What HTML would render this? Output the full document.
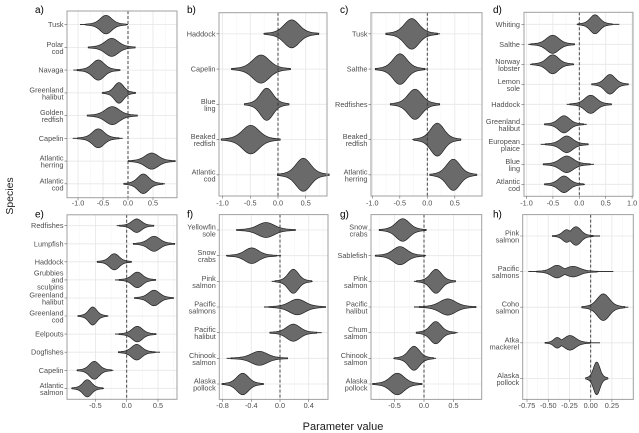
<!DOCTYPE html>
<html><head><meta charset="utf-8"><style>
html,body{margin:0;padding:0;background:#fff;}
svg{display:block;font-family:"Liberation Sans",Arial,sans-serif;}
.mi{stroke:#f3f3f3;stroke-width:0.5;fill:none}
.ma{stroke:#e6e6e6;stroke-width:0.8;fill:none}
.z{stroke:#333;stroke-width:0.9;stroke-dasharray:3 2;fill:none}
.t{stroke:#1a1a1a;stroke-width:0.9;fill:none}
.bd{fill:none;stroke:#a0a0a0;stroke-width:1}
.tk{stroke:#666;stroke-width:0.6;fill:none}
.yl{font-size:7.3px;fill:#4d4d4d;text-anchor:end}
.xl{font-size:7.3px;fill:#4d4d4d;text-anchor:middle}
.tag{font-size:10px;fill:#000}
</style></head><body>
<svg width="639" height="433" viewBox="0 0 639 433" xmlns="http://www.w3.org/2000/svg" xmlns:xlink="http://www.w3.org/1999/xlink">
<defs>
<path id="v" vector-effect="non-scaling-stroke" d="M-4 0L-4 -.0254L-3.5 -.0468L-3 -.0826L-2.75 -.1094L-2.5 -.1451L-2.25 -.193L-2 -.2565L-1.75 -.3384L-1.5 -.4393L-1.25 -.5562L-1 -.6817L-.75 -.8035L-.5 -.9064L-.25 -.9756L0 -1L.25 -.9756L.5 -.9064L.75 -.8035L1 -.6817L1.25 -.5562L1.5 -.4393L1.75 -.3384L2 -.2565L2.25 -.193L2.5 -.1451L2.75 -.1094L3 -.0826L3.5 -.0468L4 -.0254L4 .0254L3.5 .0468L3 .0826L2.75 .1094L2.5 .1451L2.25 .193L2 .2565L1.75 .3384L1.5 .4393L1.25 .5562L1 .6817L.75 .8035L.5 .9064L.25 .9756L0 1L-.25 .9756L-.5 .9064L-.75 .8035L-1 .6817L-1.25 .5562L-1.5 .4393L-1.75 .3384L-2 .2565L-2.25 .193L-2.5 .1451L-2.75 .1094L-3 .0826L-3.5 .0468L-4 .0254Z"/>
<g id="all">
<use xlink:href="#v" href="#v" transform="translate(106 24.6) scale(5 9)"/>
<use xlink:href="#v" href="#v" transform="translate(111.7 47.4) scale(5.8 8.7)"/>
<use xlink:href="#v" href="#v" transform="translate(98.3 70.1) scale(5.2 9.8)"/>
<use xlink:href="#v" href="#v" transform="translate(119 92.9) scale(4 10)"/>
<use xlink:href="#v" href="#v" transform="translate(112.3 115.6) scale(6.2 8.7)"/>
<use xlink:href="#v" href="#v" transform="translate(98.3 138.3) scale(5.1 9.2)"/>
<use xlink:href="#v" href="#v" transform="translate(151.7 161.1) scale(5.8 7.8)"/>
<use xlink:href="#v" href="#v" transform="translate(143.3 183.8) scale(4.8 9.5)"/>
<use xlink:href="#v" href="#v" transform="translate(291.7 33.85) scale(6.7 13.7)"/>
<use xlink:href="#v" href="#v" transform="translate(261 69.1) scale(7.3 13.8)"/>
<use xlink:href="#v" href="#v" transform="translate(266.7 104.3) scale(5.5 15.8)"/>
<use xlink:href="#v" href="#v" transform="translate(250.7 139.6) scale(7.3 14)"/>
<use xlink:href="#v" href="#v" transform="translate(303.3 174.8) scale(6.4 16.2)"/>
<use xlink:href="#v" href="#v" transform="translate(411.7 33.85) scale(6.4 15)"/>
<use xlink:href="#v" href="#v" transform="translate(400 69.1) scale(6.1 15)"/>
<use xlink:href="#v" href="#v" transform="translate(415 104.3) scale(6.1 14.8)"/>
<use xlink:href="#v" href="#v" transform="translate(437.3 139.6) scale(5.8 16.2)"/>
<use xlink:href="#v" href="#v" transform="translate(453.3 174.8) scale(5.8 15.3)"/>
<use xlink:href="#v" href="#v" transform="translate(595 24.3) scale(4.2 9.2)"/>
<use xlink:href="#v" href="#v" transform="translate(552.7 44.3) scale(5.4 8.8)"/>
<use xlink:href="#v" href="#v" transform="translate(552.7 64.3) scale(5.1 9.2)"/>
<use xlink:href="#v" href="#v" transform="translate(610 84.3) scale(4.5 9.5)"/>
<use xlink:href="#v" href="#v" transform="translate(590.7 104.3) scale(5.1 8.8)"/>
<use xlink:href="#v" href="#v" transform="translate(564 124.3) scale(4.8 8.3)"/>
<use xlink:href="#v" href="#v" transform="translate(566.7 144.3) scale(5.3 8)"/>
<use xlink:href="#v" href="#v" transform="translate(566.7 164.3) scale(5.8 8)"/>
<use xlink:href="#v" href="#v" transform="translate(564 184.3) scale(4.8 8)"/>
<use xlink:href="#v" href="#v" transform="translate(136.7 225.7) scale(4.2 6.5)"/>
<use xlink:href="#v" href="#v" transform="translate(154 243.8) scale(5.1 7.2)"/>
<use xlink:href="#v" href="#v" transform="translate(114.3 261.8) scale(4.2 7.8)"/>
<use xlink:href="#v" href="#v" transform="translate(137.3 279.9) scale(4.5 7.5)"/>
<use xlink:href="#v" href="#v" transform="translate(154 298) scale(4.8 7.5)"/>
<use xlink:href="#v" href="#v" transform="translate(92.7 316) scale(3.5 8.7)"/>
<use xlink:href="#v" href="#v" transform="translate(137.3 334.1) scale(4.5 7.5)"/>
<use xlink:href="#v" href="#v" transform="translate(136.7 352.2) scale(4.5 7.5)"/>
<use xlink:href="#v" href="#v" transform="translate(94.3 370.3) scale(4.2 8.7)"/>
<use xlink:href="#v" href="#v" transform="translate(87.3 388.3) scale(3.8 8.3)"/>
<use xlink:href="#v" href="#v" transform="translate(266 230) scale(7.3 7.2)"/>
<use xlink:href="#v" href="#v" transform="translate(251.7 255.7) scale(6.1 7.5)"/>
<use xlink:href="#v" href="#v" transform="translate(293.3 281.3) scale(4.5 11.7)"/>
<use xlink:href="#v" href="#v" transform="translate(297.3 307) scale(7 7.5)"/>
<use xlink:href="#v" href="#v" transform="translate(293.3 332.7) scale(5.8 8.3)"/>
<use xlink:href="#v" href="#v" transform="translate(259.3 358.3) scale(7 6.7)"/>
<use xlink:href="#v" href="#v" transform="translate(242.7 384) scale(5.1 10.5)"/>
<use xlink:href="#v" href="#v" transform="translate(402.7 230) scale(5.8 11)"/>
<use xlink:href="#v" href="#v" transform="translate(400 255.7) scale(6.1 8.8)"/>
<use xlink:href="#v" href="#v" transform="translate(436 281.3) scale(4.8 11.7)"/>
<use xlink:href="#v" href="#v" transform="translate(447.7 307) scale(7 7.8)"/>
<use xlink:href="#v" href="#v" transform="translate(435.7 332.7) scale(4.8 10.8)"/>
<use xlink:href="#v" href="#v" transform="translate(414 358.3) scale(4.8 11.7)"/>
<use xlink:href="#v" href="#v" transform="translate(397.3 384) scale(6.1 10.5)"/>
<use xlink:href="#v" href="#v" transform="translate(576 236) scale(4.2 9)"/>
<use xlink:href="#v" href="#v" transform="translate(566.7 236) scale(3.5 6)"/>
<use xlink:href="#v" href="#v" transform="translate(557 271.6) scale(5 6)"/>
<use xlink:href="#v" href="#v" transform="translate(573 271.6) scale(6 5)"/>
<use xlink:href="#v" href="#v" transform="translate(603.3 307.2) scale(5.3 13)"/>
<use xlink:href="#v" href="#v" transform="translate(570 342.8) scale(5 7)"/>
<use xlink:href="#v" href="#v" transform="translate(557.3 342.8) scale(3 5)"/>
<use xlink:href="#v" href="#v" transform="translate(596.7 378.4) scale(2.7 16)"/>
</g>
</defs>

<rect x="0" y="0" width="639" height="433" fill="#fff"/>

<path class="mi" d="M90.5 11V197.7M115.5 11V197.7M140.5 11V197.7M165.5 11V197.7
M236.5 12.7V196M264.2 12.7V196M291.9 12.7V196M319.6 12.7V196
M386 12.7V196M413.5 12.7V196M441 12.7V196M468.5 12.7V196
M539.7 12.3V196.3M566.1 12.3V196.3M592.5 12.3V196.3M618.9 12.3V196.3
M79.7 214.8V399.3M111 214.8V399.3M142.3 214.8V399.3M173.6 214.8V399.3
M236.9 214.6V399.4M265.6 214.6V399.4M294.3 214.6V399.4M323 214.6V399.4
M379.75 214.6V399.4M409.25 214.6V399.4M438.75 214.6V399.4M468.25 214.6V399.4
M537.7 214.6V399.4M558.9 214.6V399.4M580.1 214.6V399.4M601.3 214.6V399.4M622.5 214.6V399.4"/>
<path class="ma" d="M78 11V197.7M103 11V197.7M128 11V197.7M153 11V197.7
M67 24.6H177M67 47.4H177M67 70.1H177M67 92.9H177M67 115.6H177M67 138.3H177M67 161.1H177M67 183.8H177
M222.6 12.7V196M250.3 12.7V196M278 12.7V196M305.7 12.7V196
M219 33.85H327M219 69.1H327M219 104.3H327M219 139.6H327M219 174.8H327
M372.3 12.7V196M399.8 12.7V196M427.3 12.7V196M454.8 12.7V196
M371 33.85H482M371 69.1H482M371 104.3H482M371 139.6H482M371 174.8H482
M526.5 12.3V196.3M552.9 12.3V196.3M579.3 12.3V196.3M605.7 12.3V196.3M632.1 12.3V196.3
M524 24.3H633M524 44.3H633M524 64.3H633M524 84.3H633M524 104.3H633M524 124.3H633M524 144.3H633M524 164.3H633M524 184.3H633
M95.4 214.8V399.3M126.7 214.8V399.3M158 214.8V399.3
M67 225.7H177M67 243.8H177M67 261.8H177M67 279.9H177M67 298H177M67 316H177M67 334.1H177M67 352.2H177M67 370.3H177M67 388.3H177
M222.6 214.6V399.4M251.3 214.6V399.4M280 214.6V399.4M308.7 214.6V399.4
M219.3 230H328M219.3 255.7H328M219.3 281.3H328M219.3 307H328M219.3 332.7H328M219.3 358.3H328M219.3 384H328
M394.5 214.6V399.4M424 214.6V399.4M453.5 214.6V399.4
M371 230H481.7M371 255.7H481.7M371 281.3H481.7M371 307H481.7M371 332.7H481.7M371 358.3H481.7M371 384H481.7
M527 214.6V399.4M548.3 214.6V399.4M569.5 214.6V399.4M590.7 214.6V399.4M611.9 214.6V399.4
M522.7 236H633.3M522.7 271.6H633.3M522.7 307.2H633.3M522.7 342.8H633.3M522.7 378.4H633.3"/>

<path class="t" d="M80 24.6H128M90 47.4H133.3M73.3 70.1H120.7M101.7 92.9H136M90 115.6H133.3M72.7 138.3H122.7M130 161.1H170M126.7 183.8H165
M263.3 33.85H315.7M234 69.1H290M247.3 104.3H287.7M224 139.6H275M280.7 174.8H324.3
M386.7 33.85H440M376 69.1H426.7M390 104.3H436.7M412.3 139.6H457.3M431.7 174.8H475.3
M576.7 24.3H619.3M528.3 44.3H571.7M530 64.3H574M591.7 84.3H626.7M566.7 104.3H611.7M545 124.3H586.7M540.7 144.3H588.3M548.3 164.3H594M545 184.3H585
M116.7 225.7H154M136.7 243.8H172M98.7 261.8H130.7M115 279.9H155.3M140.7 298H172M77.3 316H108.3M115 334.1H156.7M120 352.2H160M76.7 370.3H113.3M71.7 388.3H104
M237.3 230H294M226 255.7H281M271.7 281.3H312.7M264 307H324M270 332.7H321.7M226.7 358.3H286.7M224.3 384H262.7
M385 230H421.7M380 255.7H426M414 281.3H455M414 307H476M416.7 332.7H457.7M393.3 358.3H436M376.7 384H421.7
M553.3 236H600M528.3 271.6H613.3M585 307.2H628.3M545 342.8H600M588.3 378.4H608.3"/>

<use xlink:href="#all" href="#all" style="fill:none;stroke:#1a1a1a;stroke-width:1.3"/>
<use xlink:href="#all" href="#all" style="fill:#6a6a6a;stroke:none"/>

<path class="z" d="M128 11V197.7M278 12.7V196M427.3 12.7V196M579.3 12.3V196.3M126.7 214.8V399.3M280 214.6V399.4M424 214.6V399.4M590.7 214.6V399.4"/>

<rect class="bd" x="67" y="11" width="110" height="186.7"/>
<rect class="bd" x="219" y="12.7" width="108" height="183.3"/>
<rect class="bd" x="371" y="12.7" width="111" height="183.3"/>
<rect class="bd" x="524" y="12.3" width="109" height="184"/>
<rect class="bd" x="67" y="214.8" width="110" height="184.5"/>
<rect class="bd" x="219.3" y="214.6" width="108.7" height="184.8"/>
<rect class="bd" x="371" y="214.6" width="110.7" height="184.8"/>
<rect class="bd" x="522.7" y="214.6" width="110.6" height="184.8"/>

<path class="tk" d="M64.5 24.6H67M64.5 47.4H67M64.5 70.1H67M64.5 92.9H67M64.5 115.6H67M64.5 138.3H67M64.5 161.1H67M64.5 183.8H67
M78 197.7V200.2M103 197.7V200.2M128 197.7V200.2M153 197.7V200.2
M216.5 33.85H219M216.5 69.1H219M216.5 104.3H219M216.5 139.6H219M216.5 174.8H219
M222.6 196V198.5M250.3 196V198.5M278 196V198.5M305.7 196V198.5
M368.5 33.85H371M368.5 69.1H371M368.5 104.3H371M368.5 139.6H371M368.5 174.8H371
M372.3 196V198.5M399.8 196V198.5M427.3 196V198.5M454.8 196V198.5
M521.5 24.3H524M521.5 44.3H524M521.5 64.3H524M521.5 84.3H524M521.5 104.3H524M521.5 124.3H524M521.5 144.3H524M521.5 164.3H524M521.5 184.3H524
M526.5 196.3V198.8M552.9 196.3V198.8M579.3 196.3V198.8M605.7 196.3V198.8M632.1 196.3V198.8
M64.5 225.7H67M64.5 243.8H67M64.5 261.8H67M64.5 279.9H67M64.5 298H67M64.5 316H67M64.5 334.1H67M64.5 352.2H67M64.5 370.3H67M64.5 388.3H67
M95.4 399.3V401.8M126.7 399.3V401.8M158 399.3V401.8
M216.8 230H219.3M216.8 255.7H219.3M216.8 281.3H219.3M216.8 307H219.3M216.8 332.7H219.3M216.8 358.3H219.3M216.8 384H219.3
M222.6 399.4V401.9M251.3 399.4V401.9M280 399.4V401.9M308.7 399.4V401.9
M368.5 230H371M368.5 255.7H371M368.5 281.3H371M368.5 307H371M368.5 332.7H371M368.5 358.3H371M368.5 384H371
M394.5 399.4V401.9M424 399.4V401.9M453.5 399.4V401.9
M520.2 236H522.7M520.2 271.6H522.7M520.2 307.2H522.7M520.2 342.8H522.7M520.2 378.4H522.7
M527 399.4V401.9M548.3 399.4V401.9M569.5 399.4V401.9M590.7 399.4V401.9M611.9 399.4V401.9"/>

<g class="yl">
<text x="63.5" y="27.1">Tusk</text>
<text x="63.5" y="46.9">Polar</text><text x="63.5" y="53.9">cod</text>
<text x="63.5" y="72.6">Navaga</text>
<text x="63.5" y="92.4">Greenland</text><text x="63.5" y="99.4">halibut</text>
<text x="63.5" y="115.1">Golden</text><text x="63.5" y="122.1">redfish</text>
<text x="63.5" y="140.8">Capelin</text>
<text x="63.5" y="160.6">Atlantic</text><text x="63.5" y="167.6">herring</text>
<text x="63.5" y="183.3">Atlantic</text><text x="63.5" y="190.3">cod</text>
</g>
<g class="yl">
<text x="215.5" y="36.35">Haddock</text>
<text x="215.5" y="71.6">Capelin</text>
<text x="215.5" y="103.8">Blue</text><text x="215.5" y="110.8">ling</text>
<text x="215.5" y="139.1">Beaked</text><text x="215.5" y="146.1">redfish</text>
<text x="215.5" y="174.3">Atlantic</text><text x="215.5" y="181.3">cod</text>
</g>
<g class="yl">
<text x="367.5" y="36.35">Tusk</text>
<text x="367.5" y="71.6">Salthe</text>
<text x="367.5" y="106.8">Redfishes</text>
<text x="367.5" y="139.1">Beaked</text><text x="367.5" y="146.1">redfish</text>
<text x="367.5" y="174.3">Atlantic</text><text x="367.5" y="181.3">herring</text>
</g>
<g class="yl">
<text x="520" y="26.8">Whiting</text>
<text x="520" y="46.8">Salthe</text>
<text x="520" y="63.8">Norway</text><text x="520" y="70.8">lobster</text>
<text x="520" y="83.8">Lemon</text><text x="520" y="90.8">sole</text>
<text x="520" y="106.8">Haddock</text>
<text x="520" y="123.8">Greenland</text><text x="520" y="130.8">halibut</text>
<text x="520" y="143.8">European</text><text x="520" y="150.8">plaice</text>
<text x="520" y="163.8">Blue</text><text x="520" y="170.8">ling</text>
<text x="520" y="183.8">Atlantic</text><text x="520" y="190.8">cod</text>
</g>
<g class="yl">
<text x="63.5" y="228.2">Redfishes</text>
<text x="63.5" y="246.3">Lumpfish</text>
<text x="63.5" y="264.3">Haddock</text>
<text x="63.5" y="275.4">Grubbies</text><text x="63.5" y="282.4">and</text><text x="63.5" y="289.4">sculpins</text>
<text x="63.5" y="297.5">Greenland</text><text x="63.5" y="304.5">halibut</text>
<text x="63.5" y="315.5">Greenland</text><text x="63.5" y="322.5">cod</text>
<text x="63.5" y="336.6">Eelpouts</text>
<text x="63.5" y="354.7">Dogfishes</text>
<text x="63.5" y="372.8">Capelin</text>
<text x="63.5" y="387.8">Atlantic</text><text x="63.5" y="394.8">salmon</text>
</g>
<g class="yl">
<text x="215.8" y="229.5">Yellowfin</text><text x="215.8" y="236.5">sole</text>
<text x="215.8" y="255.2">Snow</text><text x="215.8" y="262.2">crabs</text>
<text x="215.8" y="280.8">Pink</text><text x="215.8" y="287.8">salmon</text>
<text x="215.8" y="306.5">Pacific</text><text x="215.8" y="313.5">salmons</text>
<text x="215.8" y="332.2">Pacific</text><text x="215.8" y="339.2">halibut</text>
<text x="215.8" y="357.8">Chinook</text><text x="215.8" y="364.8">salmon</text>
<text x="215.8" y="383.5">Alaska</text><text x="215.8" y="390.5">pollock</text>
</g>
<g class="yl">
<text x="367.5" y="229.5">Snow</text><text x="367.5" y="236.5">crabs</text>
<text x="367.5" y="258.2">Sablefish</text>
<text x="367.5" y="280.8">Pink</text><text x="367.5" y="287.8">salmon</text>
<text x="367.5" y="306.5">Pacific</text><text x="367.5" y="313.5">halibut</text>
<text x="367.5" y="332.2">Chum</text><text x="367.5" y="339.2">salmon</text>
<text x="367.5" y="357.8">Chinook</text><text x="367.5" y="364.8">salmon</text>
<text x="367.5" y="383.5">Alaska</text><text x="367.5" y="390.5">pollock</text>
</g>
<g class="yl">
<text x="519.2" y="235.5">Pink</text><text x="519.2" y="242.5">salmon</text>
<text x="519.2" y="271.1">Pacific</text><text x="519.2" y="278.1">salmons</text>
<text x="519.2" y="306.7">Coho</text><text x="519.2" y="313.7">salmon</text>
<text x="519.2" y="342.3">Atka</text><text x="519.2" y="349.3">mackerel</text>
<text x="519.2" y="377.9">Alaska</text><text x="519.2" y="384.9">pollock</text>
</g>

<g class="xl">
<text x="78" y="205.5">-1.0</text><text x="103" y="205.5">-0.5</text><text x="128" y="205.5">0.0</text><text x="153" y="205.5">0.5</text>
<text x="222.6" y="205.5">-1.0</text><text x="250.3" y="205.5">-0.5</text><text x="278" y="205.5">0.0</text><text x="305.7" y="205.5">0.5</text>
<text x="372.3" y="205.5">-1.0</text><text x="399.8" y="205.5">-0.5</text><text x="427.3" y="205.5">0.0</text><text x="454.8" y="205.5">0.5</text>
<text x="526.5" y="205.5">-1.0</text><text x="552.9" y="205.5">-0.5</text><text x="579.3" y="205.5">0.0</text><text x="605.7" y="205.5">0.5</text><text x="632.1" y="205.5">1.0</text>
<text x="95.4" y="408">-0.5</text><text x="126.7" y="408">0.0</text><text x="158" y="408">0.5</text>
<text x="222.6" y="408">-0.8</text><text x="251.3" y="408">-0.4</text><text x="280" y="408">0.0</text><text x="308.7" y="408">0.4</text>
<text x="394.5" y="408">-0.5</text><text x="424" y="408">0.0</text><text x="453.5" y="408">0.5</text>
<text x="527" y="408">-0.75</text><text x="548.3" y="408">-0.50</text><text x="569.5" y="408">-0.25</text><text x="590.7" y="408">0.00</text><text x="611.9" y="408">0.25</text>
</g>

<g class="tag">
<text x="35" y="13">a)</text>
<text x="187" y="13">b)</text>
<text x="340" y="13">c)</text>
<text x="493" y="13">d)</text>
<text x="35" y="217.5">e)</text>
<text x="187" y="217.5">f)</text>
<text x="340" y="217.5">g)</text>
<text x="493" y="217.5">h)</text>
</g>

<text transform="translate(13 196) rotate(-90)" text-anchor="middle" font-size="10.5" fill="#1a1a1a">Species</text>
<text x="343" y="430" text-anchor="middle" font-size="11" fill="#1a1a1a">Parameter value</text>
</svg>
</body></html>
